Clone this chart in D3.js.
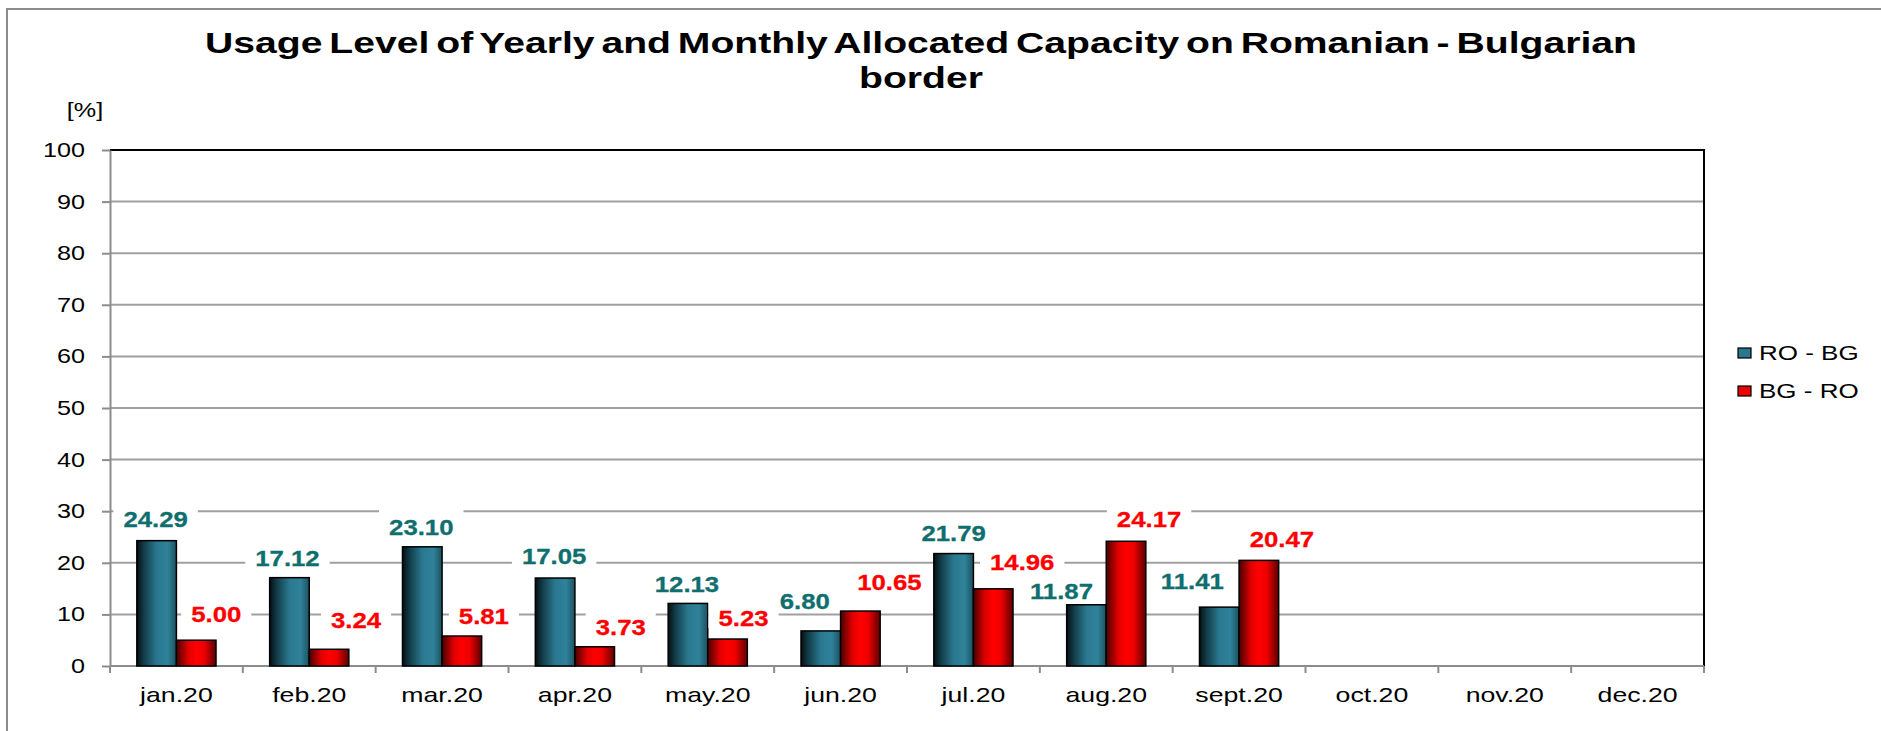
<!DOCTYPE html>
<html>
<head>
<meta charset="utf-8">
<script src="https://cdn.jsdelivr.net/npm/d3@7"></script>
<style>
  html, body { margin: 0; padding: 0; background: #fff; }
  svg { display: block; font-family: "Liberation Sans", Arial, sans-serif; }
</style>
</head>
<body>
<svg id="chart" width="1881" height="731"></svg>
<script>
// ---- data ----
const months = ["jan.20", "feb.20", "mar.20", "apr.20", "may.20", "jun.20",
                "jul.20", "aug.20", "sept.20", "oct.20", "nov.20", "dec.20"];
const roBg = [24.29, 17.12, 23.10, 17.05, 12.13, 6.80, 21.79, 11.87, 11.41, null, null, null];
const bgRo = [5.00, 3.24, 5.81, 3.73, 5.23, 10.65, 14.96, 24.17, 20.47, null, null, null];
const yTicks = [0, 10, 20, 30, 40, 50, 60, 70, 80, 90, 100];
const seriesNames = ["RO - BG", "BG - RO"];
const titleLines = ["Usage Level of Yearly and Monthly Allocated Capacity on Romanian - Bulgarian", "border"];

// ---- label placement (shift from bar centre, rise above bar top) ----
const roBgLabelShift = [[-1, 22], [-2, 20], [-1, 20], [-1, 22], [-1, 19], [-16, 30], [0, 21], [-25, 14], [-27, 26]];
const bgRoLabelShift = [[20, 26], [27, 29], [22, 20], [26, 20], [16, 21], [29, 29], [29, 27], [23, 22], [23, 21]];

// ---- layout ----
const W = 1881, H = 731;
const plot = { left: 110, right: 1704, top: 150, bottom: 666 };
const blueText = "#0f6e6e", redText = "#ff0000";

const svg = d3.select("#chart");

// gradients for the bars
const defs = svg.append("defs");
function gradient(id, stops) {
  const g = defs.append("linearGradient").attr("id", id)
    .attr("x1", "0%").attr("x2", "100%").attr("y1", "0%").attr("y2", "0%");
  stops.forEach(([o, c]) => g.append("stop").attr("offset", o).attr("stop-color", c));
}
gradient("gBlue", [["0%", "#050f12"], ["18%", "#123c48"], ["50%", "#2a7890"], ["78%", "#2f8299"], ["100%", "#1c5160"]]);
gradient("gRed", [["0%", "#4a0000"], ["30%", "#e00000"], ["50%", "#ff0000"], ["70%", "#ee0000"], ["100%", "#5a0000"]]);

// horizontally stretched text placed at (x, y)
function stretched(sel, x, y, sx) {
  return sel.attr("x", 0).attr("y", 0)
    .attr("transform", `translate(${x},${y}) scale(${sx},1)`);
}

// outer frame
svg.append("rect").attr("x", 7).attr("y", 9).attr("width", W + 20).attr("height", H + 20)
  .attr("fill", "#fff").attr("stroke", "#8c8c8c").attr("stroke-width", 2);

// title, fitted to the frame width
const title = svg.append("text").attr("font-weight", "bold").attr("font-size", 29)
  .attr("text-anchor", "middle").attr("fill", "#000")
  .attr("word-spacing", -3);
const t1 = title.append("tspan").attr("x", 0).attr("y", 53).text(titleLines[0]);
title.append("tspan").attr("x", 0).attr("y", 88).text(titleLines[1]);
const titleSX = 1432 / t1.node().getComputedTextLength();
title.attr("transform", `translate(921,0) scale(${titleSX},1)`);

// scales
const x = d3.scaleBand().domain(months).range([plot.left, plot.right]).padding(0);
const y = d3.scaleLinear().domain([0, 100]).range([plot.bottom, plot.top]);
const bw = x.bandwidth();
const barW = bw * 0.298;

// gridlines
svg.append("g").selectAll("line").data(yTicks.filter(t => t > 0 && t < 100)).join("line")
  .attr("x1", plot.left).attr("x2", plot.right)
  .attr("y1", d => y(d)).attr("y2", d => y(d))
  .attr("stroke", "#a0a0a0").attr("stroke-width", 2);

// plot border top / right
svg.append("path")
  .attr("d", `M${plot.left},${y(100)}H${plot.right}V${plot.bottom}`)
  .attr("fill", "none").attr("stroke", "#000").attr("stroke-width", 2);

// y axis
const tickSX = 1.26;
const yAxis = svg.append("g").attr("transform", `translate(${plot.left},0)`)
  .call(d3.axisLeft(y).tickValues(yTicks).tickSize(8).tickPadding(17).tickSizeOuter(0));
yAxis.select(".domain").attr("stroke", "#8c8c8c").attr("stroke-width", 2);
yAxis.selectAll(".tick line").attr("stroke", "#8c8c8c").attr("stroke-width", 2);
yAxis.selectAll(".tick text").attr("font-size", 20).attr("fill", "#000")
  .attr("font-family", "Liberation Sans, Arial, sans-serif")
  .each(function () {
    const t = d3.select(this);
    const xx = +t.attr("x");
    t.attr("x", 0).attr("transform", `translate(${xx},0) scale(${tickSX},1)`);
  });

// unit label
stretched(svg.append("text"), 85, 117, tickSX).attr("text-anchor", "middle")
  .attr("font-size", 20).text("[%]");

// x axis
const xAxis = svg.append("g").attr("transform", `translate(0,${plot.bottom})`)
  .call(d3.axisBottom(x).tickSize(0).tickPadding(0));
xAxis.select(".domain").remove();
xAxis.selectAll(".tick text").attr("font-size", 21).attr("fill", "#000")
  .attr("font-family", "Liberation Sans, Arial, sans-serif")
  .attr("dy", null).attr("y", 0)
  .attr("transform", `translate(0,36) scale(1.27,1)`);
svg.append("line").attr("x1", plot.left).attr("x2", plot.right)
  .attr("y1", plot.bottom).attr("y2", plot.bottom)
  .attr("stroke", "#8c8c8c").attr("stroke-width", 2);
svg.append("g").selectAll("line").data(months.map(m => x(m)).concat([plot.right])).join("line")
  .attr("x1", d => d).attr("x2", d => d)
  .attr("y1", plot.bottom).attr("y2", plot.bottom + 7)
  .attr("stroke", "#8c8c8c").attr("stroke-width", 2);

// bars
const bars = svg.append("g");
months.forEach((m, i) => {
  const cx = x(m) + bw / 2;
  if (roBg[i] != null) {
    bars.append("rect").attr("x", cx - barW).attr("y", y(roBg[i]))
      .attr("width", barW).attr("height", y(0) - y(roBg[i]))
      .attr("fill", "url(#gBlue)").attr("stroke", "#000").attr("stroke-width", 1.5);
  }
  if (bgRo[i] != null) {
    bars.append("rect").attr("x", cx).attr("y", y(bgRo[i]))
      .attr("width", barW).attr("height", y(0) - y(bgRo[i]))
      .attr("fill", "url(#gRed)").attr("stroke", "#000").attr("stroke-width", 1.5);
  }
});

// value labels on white boxes
const labelSX = 1.12;
const labels = svg.append("g");
function valueLabel(v, barCx, shift, color) {
  const lx = barCx + shift[0];
  const ly = y(v) - shift[1];
  const g = labels.append("g");
  const box = g.append("rect").attr("fill", "#fff");
  const t = g.append("text").attr("font-size", 23).attr("font-weight", "bold")
    .attr("fill", color).attr("stroke", color).attr("stroke-width", 0.3)
    .attr("text-anchor", "middle").attr("dy", "0.35em")
    .text(d3.format(".2f")(v));
  stretched(t, lx, ly, labelSX);
  const w = t.node().getComputedTextLength() * labelSX;
  box.attr("x", lx - w / 2 - 10).attr("width", w + 20)
    .attr("y", ly - 17).attr("height", 27);
}
months.forEach((m, i) => {
  const cx = x(m) + bw / 2;
  if (roBg[i] != null) valueLabel(roBg[i], cx - barW / 2, roBgLabelShift[i], blueText);
  if (bgRo[i] != null) valueLabel(bgRo[i], cx + barW / 2, bgRoLabelShift[i], redText);
});

// legend
const legend = svg.append("g");
const legendSwatch = ["#2a7890", "#ee0000"];
seriesNames.forEach((name, i) => {
  const cy = 353 + i * 38;
  legend.append("rect").attr("x", 1738).attr("y", cy - 5).attr("width", 13).attr("height", 10)
    .attr("fill", legendSwatch[i]).attr("stroke", "#000").attr("stroke-width", 1.2);
  stretched(legend.append("text"), 1759, cy, 1.3).attr("dy", "0.35em")
    .attr("font-size", 20).text(name);
});
</script>
</body>
</html>
